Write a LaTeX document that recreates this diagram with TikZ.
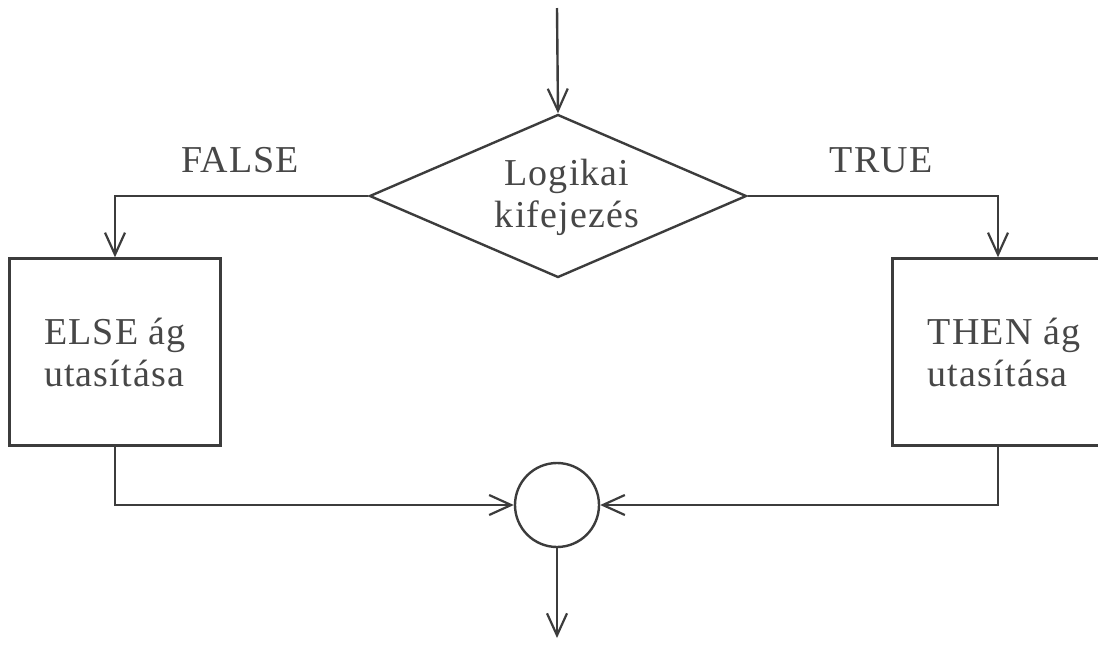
\documentclass[tikz,border=0pt]{standalone}
\usepackage{fontspec}
\setmainfont{Liberation Serif}
\usetikzlibrary{arrows.meta,shapes.geometric}
\definecolor{ink}{HTML}{3C3C3C}
\definecolor{txt}{HTML}{474747}
\tikzset{
  ln/.style={draw=ink, line width=2.4pt},
  arr/.style={ln, -{Straight Barb[length=22pt,width=20pt,line width=2.2pt]}},
  boxst/.style={ln, rectangle, minimum width=211pt, minimum height=187pt, inner sep=0pt, align=left, text=txt},
  lbl/.style={text=txt, inner sep=0pt},
  every node/.style={font=\fontsize{38}{42}\selectfont\addfontfeature{LetterSpace=3}}
}
\begin{document}
\begin{tikzpicture}[x=1pt,y=-1pt]
\useasboundingbox[fill=white] (0,0) rectangle (1098,649);
\coordinate (top) at (557,8);
\coordinate (bot) at (557,638);
\node[ln, diamond, minimum width=377pt, minimum height=163pt, inner sep=0pt] (d) at (558,196) {};
\node[lbl, align=center] (dtext) at (567,197) {Logikai\\kifejezés};
\node[boxst] (lb) at (115,352) {ELSE ág\\utasítása};
\node[boxst] (rb) at (998,352) {\hspace*{12pt}THEN ág\\\hspace*{12pt}utasítása};
\node[ln, circle, minimum size=84pt, inner sep=0pt] (c) at (557,505) {};
\node[lbl, anchor=base] (fl) at (240,172) {FALSE};
\node[lbl, anchor=base] (tr) at (881,172) {TRUE};
\draw[arr] (top) -- (d.north);
\draw[arr] (d.west) -| (lb.north);
\draw[arr] (d.east) -| (rb.north);
\draw[arr] (lb.south) |- (c.west);
\draw[arr] (rb.south) |- (c.east);
\draw[arr] (c.south) -- (bot);
\end{tikzpicture}
\end{document}
